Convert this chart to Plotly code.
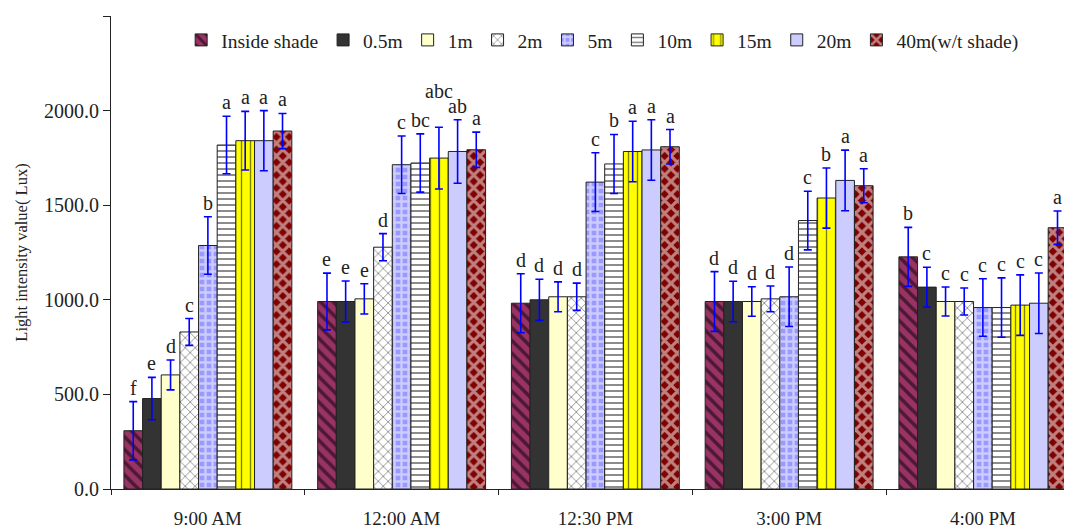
import plotly.graph_objects as go

times = ["9:00 AM", "12:00 AM", "12:30 PM", "3:00 PM", "4:00 PM"]
series = ["Inside shade", "0.5m", "1m", "2m", "5m", "10m", "15m", "20m", "40m(w/t shade)"]

values = {
    "Inside shade":   [308, 991, 982, 991, 1227],
    "0.5m":           [478, 991, 1000, 991, 1067],
    "1m":             [603, 1005, 1016, 991, 991],
    "2m":             [830, 1278, 1016, 1005, 991],
    "5m":             [1287, 1714, 1622, 1016, 959],
    "10m":            [1818, 1723, 1718, 1419, 959],
    "15m":            [1841, 1749, 1784, 1538, 972],
    "20m":            [1841, 1784, 1792, 1631, 982],
    "40m(w/t shade)": [1892, 1793, 1809, 1603, 1381],
}
errors = {
    "Inside shade":   [154, 150, 156, 158, 156],
    "0.5m":           [112, 108, 109, 107, 105],
    "1m":             [79, 80, 79, 78, 77],
    "2m":             [71, 72, 72, 68, 71],
    "5m":             [152, 152, 155, 157, 152],
    "10m":            [152, 154, 156, 155, 157],
    "15m":            [155, 163, 160, 159, 160],
    "20m":            [159, 168, 160, 160, 160],
    "40m(w/t shade)": [93, 93, 91, 90, 88],
}
letters = {
    "Inside shade":   ["f", "e", "d", "d", "b"],
    "0.5m":           ["e", "e", "d", "d", "c"],
    "1m":             ["d", "e", "d", "d", "c"],
    "2m":             ["c", "d", "d", "d", "c"],
    "5m":             ["b", "c", "c", "d", "c"],
    "10m":            ["a", "bc", "b", "c", "c"],
    "15m":            ["a", "abc", "a", "b", "c"],
    "20m":            ["a", "ab", "a", "a", "c"],
    "40m(w/t shade)": ["a", "a", "a", "a", "a"],
}
# extra vertical lift (pixels) for crowded letter labels, as in the reference
label_lift = {("15m", 1): 22}

styles = {
    "Inside shade":   dict(color="#993366", pattern=dict(shape="\\", fgcolor="black", size=9, solidity=0.4)),
    "0.5m":           dict(color="#333333"),
    "1m":             dict(color="#FFFFCC"),
    "2m":             dict(color="white", pattern=dict(shape="x", fgcolor="black", size=7, solidity=0.22)),
    "5m":             dict(color="#9999FF", pattern=dict(shape="+", fgcolor="white", size=7, solidity=0.55)),
    "10m":            dict(color="white", pattern=dict(shape="-", fgcolor="black", size=6, solidity=0.3)),
    "15m":            dict(color="#FFFF00", pattern=dict(shape="|", fgcolor="black", size=9, solidity=0.15)),
    "20m":            dict(color="#CCCCFF"),
    "40m(w/t shade)": dict(color="#800000", pattern=dict(shape="x", fgcolor="white", size=9, solidity=0.58)),
}

FONT = "Liberation Serif"
n = len(series)
w = 0.0963

fig = go.Figure()
for i, s in enumerate(series):
    xs = [g + (i - (n - 1) / 2) * w for g in range(len(times))]
    st = styles[s]
    fig.add_trace(go.Bar(
        x=xs, y=values[s], width=w, name=s,
        marker=dict(color=st["color"], line=dict(color="#222222", width=1),
                    pattern=st.get("pattern", None)),
        error_y=dict(type="data", array=errors[s], color="#0000FF", thickness=1.6, width=4),
    ))
    for g, (x, v, e, t) in enumerate(zip(xs, values[s], errors[s], letters[s])):
        fig.add_annotation(
            x=x, y=v + e, text=t, showarrow=False, xanchor="center", yanchor="bottom",
            yshift=1 + label_lift.get((s, g), 0),
            font=dict(family=FONT, size=20, color="#222222"),
        )

fig.update_layout(
    width=1064, height=523,
    margin=dict(l=103, r=0, t=8, b=42),
    barmode="overlay",
    plot_bgcolor="white", paper_bgcolor="white",
    font=dict(family=FONT, size=19, color="#222222"),
    showlegend=True,
    legend=dict(orientation="h", x=0.073, y=0.99, xanchor="left", yanchor="top",
                bgcolor="rgba(0,0,0,0)", font=dict(family=FONT, size=19.5),
                itemwidth=30, tracegroupgap=0),
)
fig.update_xaxes(
    range=[-0.5, 4.46], tickvals=list(range(len(times))), ticktext=times,
    ticks="", showline=True, linecolor="#222222", linewidth=1.2,
    showgrid=False, zeroline=False, ticklabelstandoff=12,
    tickfont=dict(family=FONT, size=19),
    minor=dict(tickvals=[-0.5, 0.5, 1.5, 2.5, 3.5], ticks="outside", ticklen=5,
               tickcolor="#222222", showgrid=False),
)
fig.update_yaxes(
    range=[0, 2500], dtick=500, tickformat=".1f",
    ticks="outside", ticklen=7, tickcolor="#222222",
    showline=True, linecolor="#222222", linewidth=1.2,
    showgrid=False, zeroline=False,
    tickfont=dict(family=FONT, size=20),
    title=dict(text="Light intensity value( Lux)", font=dict(family=FONT, size=16.5), standoff=12),
)

fig.write_html("out.html")
